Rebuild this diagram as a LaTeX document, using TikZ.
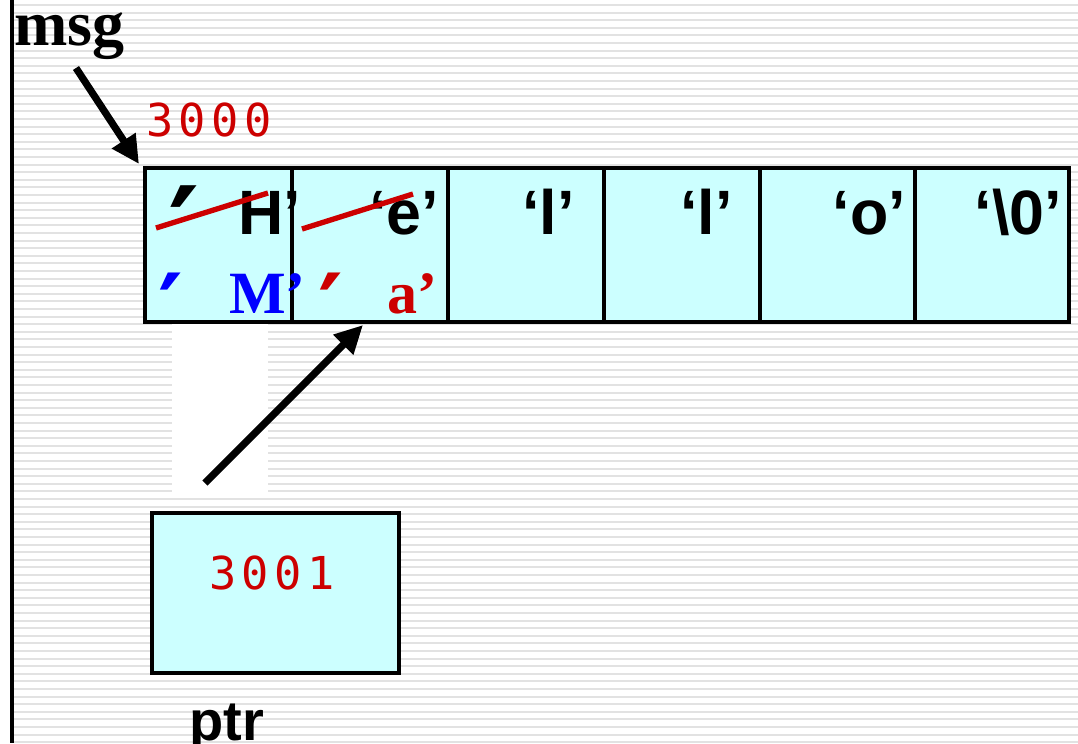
\documentclass[tikz,border=0pt]{standalone}
\usepackage{fontspec}
\setmainfont{Liberation Serif}
\newfontfamily\arial{Liberation Sans}
\newfontfamily\dejavu{DejaVu Sans}
\newfontfamily\addrfont[LetterSpace=12]{DejaVu Sans Mono}
\usetikzlibrary{arrows.meta}
\definecolor{cellcyan}{HTML}{CCFFFF}
\definecolor{addrred}{HTML}{CC0000}
\definecolor{mblue}{HTML}{0000FF}
\definecolor{stripegray}{HTML}{E2E2E2}
\tikzset{
  cellbox/.style={draw=black, line width=2.4pt, fill=cellcyan, inner sep=0pt, outer sep=0pt, minimum height=115.5pt},
  chartxt/.style={font=\arial\bfseries\fontsize{47}{47}\selectfont, inner sep=0pt, anchor=base east},
  newtxt/.style={font=\bfseries\fontsize{45}{45}\selectfont, inner sep=0pt, anchor=base east},
  primetxt/.style={font=\dejavu\bfseries\fontsize{47}{47}\selectfont, inner sep=0pt, anchor=north},
  addrtxt/.style={font=\addrfont\fontsize{34}{34}\selectfont, text=addrred, inner sep=0pt, anchor=base west},
  strike/.style={draw=addrred, line width=4pt},
  ptrarrow/.style={draw=black, line width=5.4pt, -{Triangle[length=21pt,width=20pt]}},
}
\begin{document}
\begin{tikzpicture}[x=0.75pt,y=-0.75pt]
\useasboundingbox (0,0) rectangle (1078,743);
\fill[white] (0,0) rectangle (1078,743);
% striped background
\foreach \k in {0,...,97} {
  \draw[stripegray, line width=1.6pt] (13,5+7.6*\k) -- (1078,5+7.6*\k);
}
\fill[white] (172,322) rectangle (268,498);
\draw[black, line width=2.3pt] (12,0) -- (12,743);

% label msg
\node[font=\bfseries\fontsize{48}{48}\selectfont, inner sep=0pt, text height=24pt, anchor=base west] (msg) at (14,45) {msg};
\coordinate (msgtail) at (76,68);
\node[addrtxt] (addr0) at (146,136) {3000};

% array cells
\node[cellbox, minimum width=110.25pt] (c1) at (218.5,245) {};
\node[cellbox, minimum width=117pt] (c2) at (370,245) {};
\node[cellbox, minimum width=117pt] (c3) at (526,245) {};
\node[cellbox, minimum width=117pt] (c4) at (682,245) {};
\node[cellbox, minimum width=116.25pt] (c5) at (837.5,245) {};
\node[cellbox, minimum width=115.5pt] (c6) at (992,245) {};

% original characters
\node[primetxt] (p1) at (184,185) {\scalebox{1.9}{′}};
\node[chartxt] (t1) at (301,234) {H’};
\node[chartxt] (t2) at (439,234) {‘e’};
\node[chartxt] (t3) at (575,234) {‘l’};
\node[chartxt] (t4) at (733,234) {‘l’};
\node[chartxt] (t5) at (906,234) {‘o’};
\node[chartxt] (t6) at (1062,234) {‘\textbackslash 0’};

% strike-throughs
\draw[strike] (156,228) -- (268,193);
\draw[strike] (302,229) -- (413,194);

% new characters
\node[primetxt, text=mblue] (p2) at (171,273) {\scalebox{1.5}{′}};
\node[newtxt, text=mblue] (n1) at (306,313) {M’};
\node[primetxt, text=addrred] (p3) at (331,273) {\scalebox{1.5}{′}};
\node[newtxt, text=addrred] (n2) at (438,313) {a’};

% ptr box
\node[cellbox, minimum width=185.25pt, minimum height=120pt] (ptrbox) at (275.5,593) {};
\node[addrtxt] (addr1) at (209,589) {3001};
\node[font=\arial\bfseries\fontsize{42}{42}\selectfont, inner sep=0pt, text depth=0pt, anchor=base west] (ptrlbl) at (189,740) {ptr};
\coordinate (ptrtail) at (205,483);
\coordinate (c2tip) at (363,325);
\coordinate (c1tip) at (139,164);

% arrows
\draw[ptrarrow] (msgtail) -- (c1tip);
\draw[ptrarrow] (ptrtail) -- (c2tip);
\end{tikzpicture}
\end{document}
